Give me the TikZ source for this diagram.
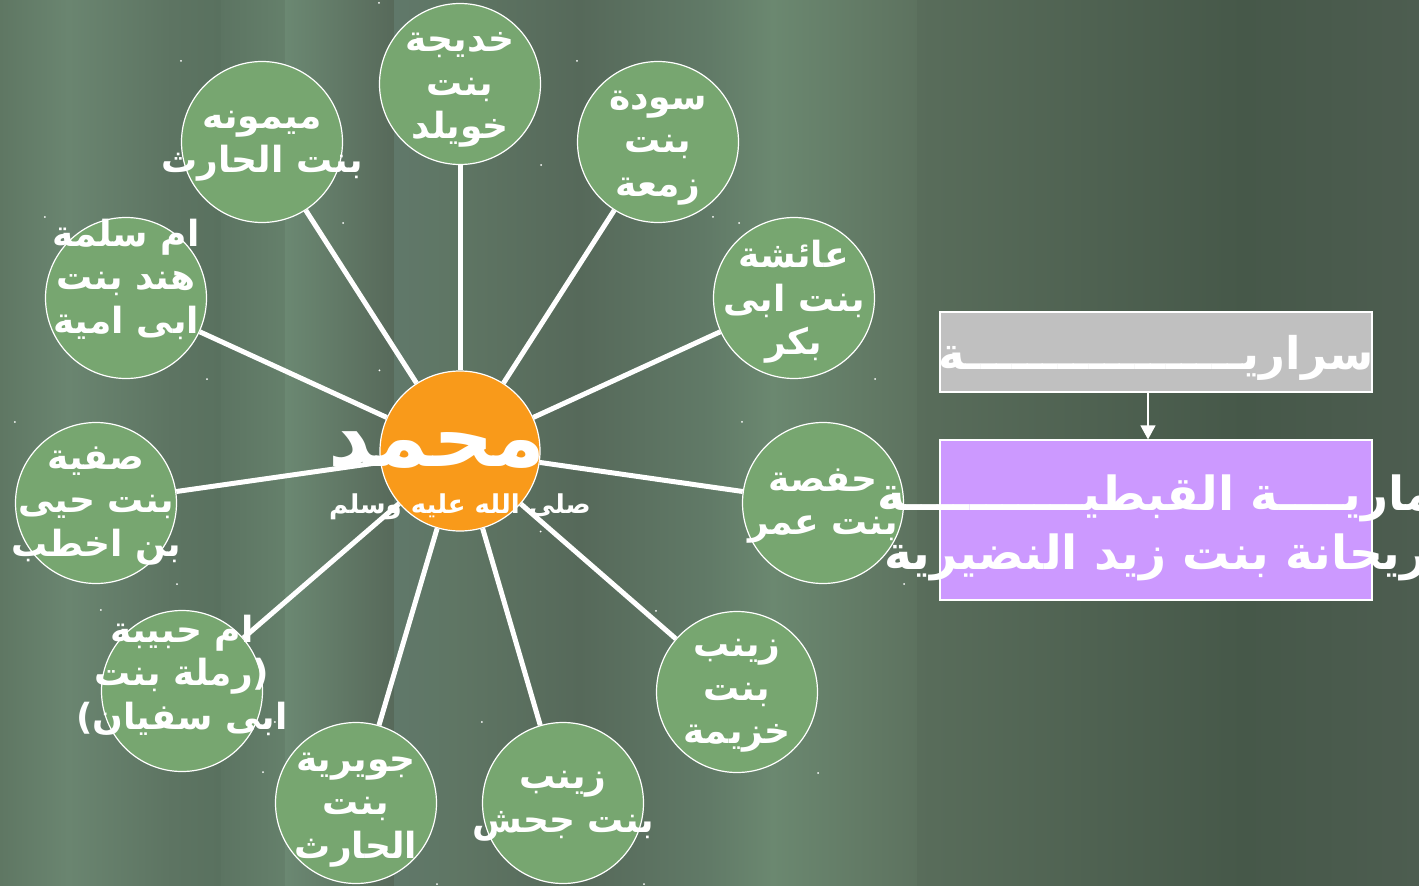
\documentclass[tikz,border=0pt]{standalone}
\usepackage{fontspec}
\newfontfamily\arabicfont[Script=Arabic]{DejaVu Sans}
\TeXXeTstate=1
\usepackage{tikz}
\usetikzlibrary{arrows.meta}
\newcommand{\artext}[1]{\beginR #1\endR}
\definecolor{wifegreen}{HTML}{77A670}
\definecolor{huborange}{HTML}{F99A1A}
\definecolor{boxgrey}{HTML}{C0C0C0}
\definecolor{boxviolet}{HTML}{CC99FF}
\pgfdeclarelayer{shade}
\pgfdeclarelayer{spokes}
\pgfsetlayers{shade,spokes,main}
\tikzset{
  wife/.style = {circle, draw=white, line width=1.2pt, fill=wifegreen,
    minimum size=161pt, inner sep=0pt},
  wifetext/.style = {text=white, align=center, inner sep=0pt,
    font=\arabicfont\bfseries\fontsize{36}{43.5}\selectfont},
  spoke/.style = {draw=white, line width=5pt},
  band/.style 2 args = {left color=#1, right color=#2}
}

\begin{document}
\begin{tikzpicture}[x=1pt,y=-1pt]
  \useasboundingbox (0,0) rectangle (1419,886);
  %%% background
  \begin{pgfonlayer}{shade}
    \foreach \xa/\xb/\ca/\cb in {0/68/5F7763/6A8570, 68/172/6A8570/5D7462,
        172/222/5D7462/59715F, 221/286/5C7462/65806B, 285/395/6B8872/57695A,
        394/453/60786A/5F7664, 452/580/5F7664/56695A, 579/710/56695A/617A67,
        709/773/617A67/6B8870, 772/918/6B8870/5D725F, 917/1244/596D5B/465849,
        1243/1419/465849/4D5D50} {
      \definecolor{ca}{HTML}{\ca}
      \definecolor{cb}{HTML}{\cb}
      \shade[band={ca}{cb}] (\xa,0) rectangle (\xb,886);
    }
  \end{pgfonlayer}
  %%% hub
  \node[circle, draw=white, line width=1.2pt, fill=huborange,
    minimum size=160pt, inner sep=0pt] (hub) at (460,451) {};
  %%% wives
  \node[wife] (khadija) at (460,84) {};
  \node[wife] (sawda) at (658,142) {};
  \node[wife] (aisha) at (794,298) {};
  \node[wife] (hafsa) at (823,503) {};
  \node[wife] (khuzayma) at (737,692) {};
  \node[wife] (jahsh) at (563,803) {};
  \node[wife] (juwayriya) at (356,803) {};
  \node[wife] (habiba) at (182,691) {};
  \node[wife] (safiyya) at (96,503) {};
  \node[wife] (salama) at (126,298) {};
  \node[wife] (maymuna) at (262,142) {};
  %
  \node[wifetext] (khadijatxt) at (460,90) {\artext{خديجة}\\\artext{بنت}\\\artext{خويلد}};
  \node[wifetext] (sawdatxt) at (658,148) {\artext{سودة}\\\artext{بنت}\\\artext{زمعة}};
  \node[wifetext] (aishatxt) at (794,302) {\artext{عائشة}\\\artext{بنت ابى}\\\artext{بكر}};
  \node[wifetext] (hafsatxt) at (823,506) {\artext{حفصة}\\\artext{بنت عمر}};
  \node[wifetext] (khuzaymatxt) at (737,696) {\artext{زينب}\\\artext{بنت}\\\artext{خزيمة}};
  \node[wifetext] (jahshtxt) at (563,806) {\artext{زينب}\\\artext{بنت جحش}};
  \node[wifetext] (juwayriyatxt) at (356,810) {\artext{جويرية}\\\artext{بنت}\\\artext{الحارث}};
  \node[wifetext] (habibatxt) at (182,675) {\artext{ام حبيبة}\\\artext{(رملة بنت}\\\artext{ابى سفيان)}};
  \node[wifetext] (safiyyatxt) at (96,506) {\artext{صفية}\\\artext{بنت حيى}\\\artext{بن اخطب}};
  \node[wifetext] (salamatxt) at (126,279) {\artext{ام سلمة}\\\artext{هند بنت}\\\artext{ابى امية}};
  \node[wifetext] (maymunatxt) at (262,146) {\artext{ميمونه}\\\artext{بنت الحارث}};
  %%% spokes
  \begin{pgfonlayer}{spokes}
    \foreach \w in {khadija,sawda,aisha,hafsa,khuzayma,jahsh,juwayriya,habiba,safiyya,salama,maymuna} {
      \draw[spoke] (hub) -- (\w);
    }
  \end{pgfonlayer}
  %%% corner specks
  \foreach \w in {hub,khadija,sawda,aisha,hafsa,khuzayma,jahsh,juwayriya,habiba,safiyya,salama,maymuna} {
    \fill[white] (\w.west |- \w.north) circle (1pt);
    \fill[white] (\w.east |- \w.south) circle (1pt);
  }
  %%% hub text
  \node[anchor=base, text=white, inner sep=0pt,
    font=\arabicfont\bfseries\fontsize{84}{90}\selectfont] (name) at (437,466) {\artext{محمد}};
  \node[anchor=base, text=white, inner sep=0pt,
    font=\arabicfont\bfseries\fontsize{26}{30}\selectfont] (salla) at (460,513) {\artext{صلى الله عليه وسلم}};
  %%% concubines
  \node[draw=white, line width=1.2pt, fill=boxgrey, minimum width=432pt, minimum height=80pt,
    inner sep=0pt] (sarari) at (1156,352) {};
  \node[text=white, inner sep=0pt, font=\arabicfont\bfseries\fontsize{45}{50}\selectfont]
    (sararitxt) at (1156,358) {\artext{سراريــــــــــــــــــة}};
  \node[draw=white, line width=1.2pt, fill=boxviolet, minimum width=432pt, minimum height=160pt,
    inner sep=0pt] (maria) at (1156,520) {};
  \node[text=white, align=center, inner sep=0pt, font=\arabicfont\bfseries\fontsize{47}{59}\selectfont]
    (mariatxt) at (1156,528) {\artext{ماريــــة القبطيـــــــــــة}\\\artext{ريحانة بنت زيد النضيرية}};
  \draw[white, line width=1.2pt, -{Triangle[width=15pt,length=14pt]}]
    ([xshift=-8pt]sarari.south) -- ([xshift=-8pt]maria.north);
\end{tikzpicture}
\end{document}
